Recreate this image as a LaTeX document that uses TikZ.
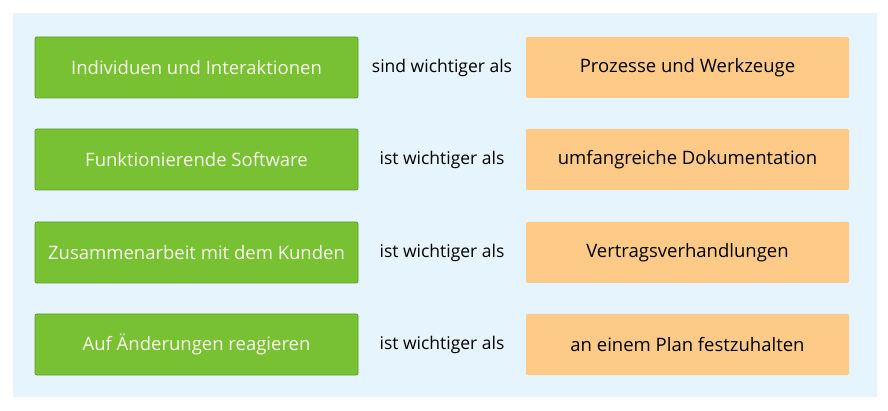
\documentclass[tikz,border=0pt]{standalone}
\usepackage{fontspec}
\setmainfont{Open Sans}
\definecolor{panel}{HTML}{E6F4FD}
\definecolor{gfill}{HTML}{78C132}
\definecolor{gdraw}{HTML}{5E9E28}
\definecolor{ofill}{HTML}{FDCB87}
\definecolor{gtext}{HTML}{F8F8EC}
\begin{document}
\begin{tikzpicture}[x=1pt,y=-1pt,
  leftbox/.style={draw=gdraw,line width=0.8pt,fill=gfill,rounded corners=2pt,minimum width=323pt,minimum height=61pt,inner sep=0pt,text=gtext,font=\fontsize{18.5}{22}\selectfont},
  rightbox/.style={fill=ofill,rounded corners=2pt,minimum width=323pt,minimum height=61pt,inner sep=0pt,text=black,font=\fontsize{18.5}{22}\selectfont},
  midtext/.style={text=black,font=\fontsize{17.5}{21}\selectfont,inner sep=0pt}]
\useasboundingbox (0,0) rectangle (888,411);
\fill[white] (0,0) rectangle (888,411);
\fill[panel] (13,13) rectangle (877,397);
\node[leftbox] (l1) at (196.5,67.5) {Individuen und Interaktionen};
\node[leftbox] (l2) at (196.5,159.5) {Funktionierende Software};
\node[leftbox] (l3) at (196.5,252.5) {Zusammenarbeit mit dem Kunden};
\node[leftbox] (l4) at (196.5,344.5) {Auf Änderungen reagieren};
\node[midtext] (m1) at (442,68) {sind wichtiger als};
\node[midtext] (m2) at (442,160) {ist wichtiger als};
\node[midtext] (m3) at (442,253) {ist wichtiger als};
\node[midtext] (m4) at (442,345) {ist wichtiger als};
\node[rightbox] (r1) at (687.5,67.5) {Prozesse und Werkzeuge};
\node[rightbox] (r2) at (687.5,159.5) {umfangreiche Dokumentation};
\node[rightbox] (r3) at (687.5,252.5) {Vertragsverhandlungen};
\node[rightbox] (r4) at (687.5,344.5) {an einem Plan festzuhalten};
\end{tikzpicture}
\end{document}
